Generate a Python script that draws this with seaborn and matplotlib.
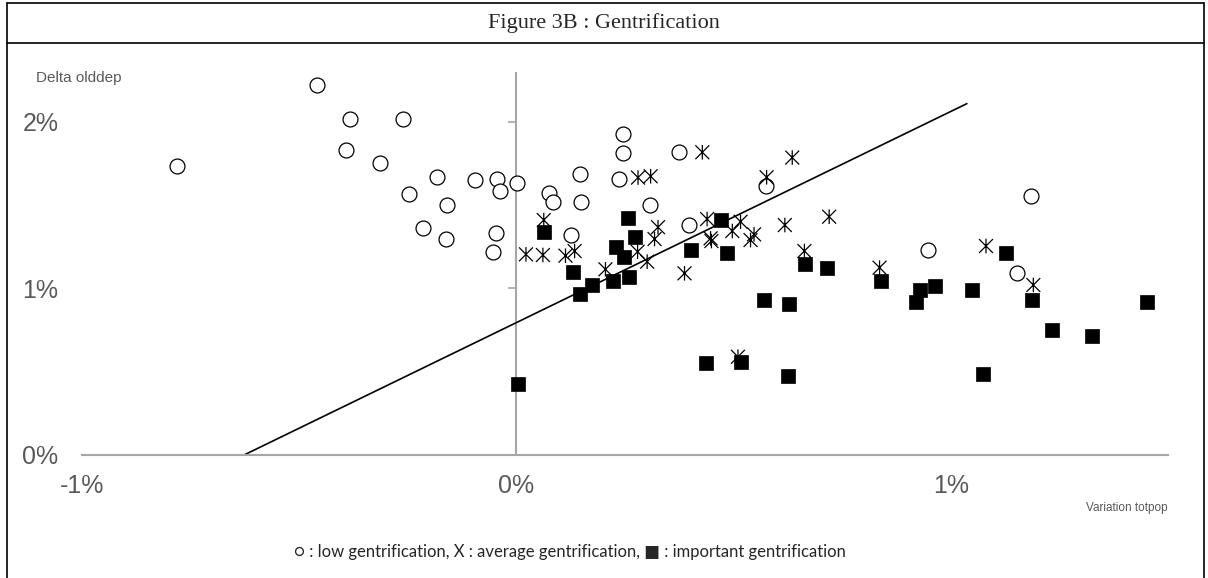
import numpy as np
import pandas as pd
import matplotlib
matplotlib.use("Agg")
import matplotlib.pyplot as plt
from matplotlib.lines import Line2D
from matplotlib.path import Path
import seaborn as sns

# values in percent
low_x = [-0.782, -0.46, -0.382, -0.26, -0.393, -0.313, -0.247, -0.182, -0.159, -0.214,
         -0.163, -0.096, -0.044, -0.037, 0.001, -0.047, -0.053, 0.074, 0.085, 0.147,
         0.148, 0.125, 0.245, 0.246, 0.237, 0.374, 0.307, 0.397, 0.574, 0.947, 1.184, 1.153]
low_y = [1.738, 2.22, 2.02, 2.018, 1.83, 1.756, 1.57, 1.67, 1.50, 1.362,
         1.30, 1.65, 1.658, 1.587, 1.636, 1.333, 1.219, 1.574, 1.522, 1.69,
         1.52, 1.321, 1.928, 1.814, 1.658, 1.818, 1.503, 1.383, 1.616, 1.231, 1.556, 1.091]

avg_x = [0.280, 0.309, 0.428, 0.063, 0.022, 0.061, 0.113, 0.134, 0.326, 0.318,
         0.279, 0.301, 0.205, 0.387, 0.635, 0.576, 0.439, 0.516, 0.497, 0.447,
         0.449, 0.547, 0.539, 0.618, 0.720, 0.663, 0.836, 0.510, 1.081, 1.190]
avg_y = [1.666, 1.674, 1.818, 1.411, 1.205, 1.201, 1.197, 1.225, 1.368, 1.297,
         1.221, 1.161, 1.115, 1.091, 1.786, 1.668, 1.417, 1.401, 1.345, 1.301,
         1.285, 1.325, 1.291, 1.381, 1.431, 1.225, 1.125, 0.590, 1.255, 1.021]

imp_x = [0.064, 0.256, 0.272, 0.230, 0.248, 0.402, 0.130, 0.146, 0.175, 0.222,
         0.259, 0.004, 0.472, 0.484, 0.664, 0.714, 0.571, 0.627, 0.839, 0.928,
         0.920, 0.963, 1.048, 0.437, 0.516, 0.626, 1.075, 1.128, 1.188, 1.233, 1.326, 1.452]
imp_y = [1.341, 1.422, 1.311, 1.251, 1.191, 1.231, 1.097, 0.967, 1.021, 1.047,
         1.067, 0.426, 1.411, 1.211, 1.147, 1.125, 0.931, 0.907, 1.047, 0.991,
         0.921, 1.015, 0.991, 0.551, 0.560, 0.474, 0.485, 1.215, 0.931, 0.751, 0.715, 0.919]

trend_x = [-0.627, 1.037]
trend_y = [0.0, 2.11]

x_ticks = [-1, 0, 1]
y_ticks = [0, 1, 2]
x_lim = (-1, 1.5)
y_lim = (0, 2.3)

sns.set_style("white")
plt.rcParams['font.family'] = ['Liberation Sans', 'DejaVu Sans']

# excel-like star marker: an X with a vertical bar
star = Path([(-1, -1), (1, 1), (-1, 1), (1, -1), (0, -1.05), (0, 1.05)],
            [Path.MOVETO, Path.LINETO, Path.MOVETO, Path.LINETO, Path.MOVETO, Path.LINETO])

fig = plt.figure(figsize=(12.08, 5.78), dpi=100)
ax = fig.add_axes([82 / 1208, 1 - 455 / 578, (1168 - 82) / 1208, (455 - 72) / 578])

grey = '#a6a6a6'
lab = '#595959'

ax.axvline(0, color=grey, lw=1.5, zorder=1)
sns.lineplot(x=trend_x, y=trend_y, color='black', lw=1.2, ax=ax, zorder=2)

sns.scatterplot(x=low_x, y=low_y, marker='o', s=115, facecolor='white',
                edgecolor='black', linewidth=0.9, ax=ax, zorder=3)
sns.scatterplot(x=avg_x, y=avg_y, marker=star, s=110, facecolor='none',
                edgecolor='black', linewidth=0.9, ax=ax, zorder=4)
sns.scatterplot(x=imp_x, y=imp_y, marker='s', s=100, color='black',
                edgecolor='black', linewidth=0.5, ax=ax, zorder=5)

ax.set_xlim(*x_lim)
ax.set_ylim(*y_lim)
ax.set_xticks(x_ticks)
ax.set_xticklabels([f"{v}%" for v in x_ticks])
ax.set_yticks(y_ticks)
ax.set_yticklabels([f"{v}%" for v in y_ticks])
for s in ['top', 'right', 'left']:
    ax.spines[s].set_visible(False)
ax.spines['bottom'].set_color(grey)
ax.spines['bottom'].set_linewidth(1.5)
ax.tick_params(axis='x', colors=grey, length=5, width=1.2, direction='out',
               labelcolor=lab, labelsize=18, pad=9)
ax.tick_params(axis='y', length=0, labelcolor=lab, labelsize=18, pad=17)

# vertical axis crossing at x = 0, ticks pointing left
loc = (0 - x_lim[0]) / (x_lim[1] - x_lim[0])
sec = ax.secondary_yaxis(loc)
sec.set_yticks(y_ticks)
sec.spines['left'].set_visible(False)
sec.tick_params(axis='y', colors=grey, length=6, width=1.2, direction='out', labelleft=False)

ax.text(1.0, -0.138, "Variation totpop", transform=ax.transAxes, ha='right', va='center',
        fontsize=8.5, color=lab)
fig.text(36 / 1208, 1 - 78 / 578, "Delta olddep", ha='left', va='center',
         fontsize=11, color=lab)

fig.text(0.5, 1 - 23 / 578, "Figure 3B : Gentrification", ha='center', va='center',
         fontsize=16, family=['Liberation Serif', 'DejaVu Serif'])
fig.text(570 / 1208, 1 - 552 / 578,
         "\u25cb : low gentrification, X : average gentrification, \u25a0 : important gentrification",
         ha='center', va='center', fontsize=12, family=['Lato', 'DejaVu Sans'])

# table cell borders
bl = 1.2
fig.add_artist(Line2D([7 / 1208, 1204 / 1208], [1 - 3 / 578] * 2, color='black', lw=bl))
fig.add_artist(Line2D([7 / 1208, 1204 / 1208], [1 - 43 / 578] * 2, color='black', lw=bl))
fig.add_artist(Line2D([7 / 1208] * 2, [0, 1 - 3 / 578], color='black', lw=bl))
fig.add_artist(Line2D([1204 / 1208] * 2, [0, 1 - 3 / 578], color='black', lw=bl))

fig.savefig("out.png", dpi=100)
